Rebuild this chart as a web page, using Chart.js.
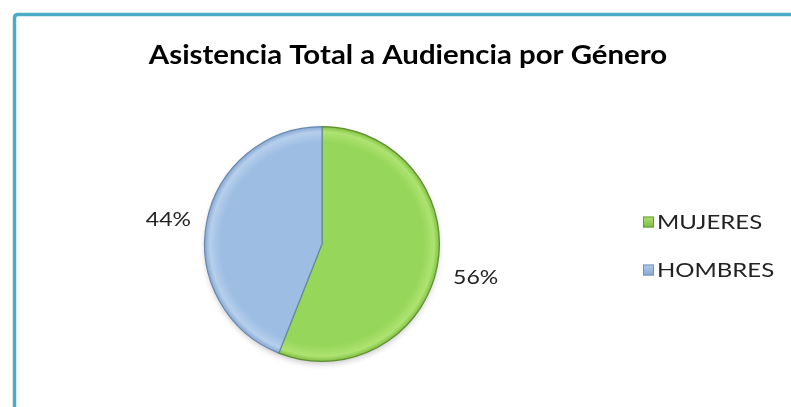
<!DOCTYPE html>
<html><head><meta charset="utf-8">
<script src="https://cdn.jsdelivr.net/npm/chart.js@4"></script>
<style>html,body{margin:0;padding:0;background:#fff;} #wrap{position:relative;width:791px;height:407px;} canvas{display:block}</style>
</head><body><div id="wrap"><canvas id="c" width="791" height="407"></canvas></div>
<script>
const categories = ['MUJERES', 'HOMBRES'];
const values = [56, 44];
const percentLabels = ['56%', '44%'];
const chartTitle = 'Asistencia Total a Audiencia por Género';

const baseColors = [
  {light: '#aee372', mid: '#96d65a', dark: '#7bbb3e', border: '#5e8e30'},
  {light: '#b6cfec', mid: '#9dbde3', dark: '#83a5cf', border: '#6a88b0'}
];

function sliceFill(ctx) {
  const chart = ctx.chart;
  const a = chart.chartArea;
  const c = baseColors[ctx.dataIndex];
  if (!a) return c.mid;
  const cx = (a.left + a.right) / 2, cy = (a.top + a.bottom) / 2;
  const r = Math.min(a.right - a.left, a.bottom - a.top) / 2;
  const g = chart.ctx.createRadialGradient(cx, cy, 0, cx, cy, r);
  g.addColorStop(0, c.mid);
  g.addColorStop(0.86, c.mid);
  g.addColorStop(0.95, c.light);
  g.addColorStop(1, c.dark);
  return g;
}

function stretchedText(ctx, text, x, y, sx, align) {
  ctx.save();
  const w = ctx.measureText(text).width * sx;
  let left = x;
  if (align === 'center') left = x - w / 2;
  ctx.translate(left, y);
  ctx.scale(sx, 1);
  ctx.textAlign = 'left';
  ctx.fillText(text, 0, 0);
  ctx.restore();
}

const decor = {
  id: 'decor',
  beforeDraw(chart) {
    const ctx = chart.ctx;
    ctx.save();
    ctx.fillStyle = '#ffffff';
    ctx.fillRect(0, 0, chart.width, chart.height);
    ctx.strokeStyle = '#4bacc6';
    ctx.lineWidth = 3.5;
    ctx.beginPath();
    ctx.moveTo(14.5, chart.height + 5);
    ctx.lineTo(14.5, 18);
    ctx.quadraticCurveTo(14.5, 14.5, 18, 14.5);
    ctx.lineTo(chart.width + 5, 14.5);
    ctx.stroke();
    ctx.restore();
  },
  beforeDatasetsDraw(chart) {
    const ctx = chart.ctx;
    ctx.save();
    ctx.shadowColor = 'rgba(0,0,0,0.25)';
    ctx.shadowBlur = 6;
    ctx.shadowOffsetY = 3;
    const arc = chart.getDatasetMeta(0).data[0];
    ctx.fillStyle = '#ffffff';
    ctx.beginPath();
    ctx.arc(arc.x, arc.y, arc.outerRadius - 1, 0, Math.PI * 2);
    ctx.fill();
    ctx.restore();
  },
  afterDraw(chart) {
    const ctx = chart.ctx;
    ctx.save();
    // title
    ctx.fillStyle = '#000000';
    ctx.font = 'bold 26px Lato';
    ctx.textBaseline = 'alphabetic';
    stretchedText(ctx, chartTitle, 408, 64, 1.13, 'center');
    // percent labels
    ctx.font = '20px Lato';
    ctx.fillStyle = '#222222';
    ctx.textBaseline = 'middle';
    const meta = chart.getDatasetMeta(0);
    meta.data.forEach((arc, i) => {
      const mid = (arc.startAngle + arc.endAngle) / 2;
      const d = arc.outerRadius + 39;
      const x = arc.x + Math.cos(mid) * d;
      const y = arc.y + Math.sin(mid) * d + 4.5;
      stretchedText(ctx, percentLabels[i], x, y, 1.15, 'center');
    });
    // legend
    ctx.font = '20px Lato';
    categories.forEach((name, i) => {
      const y = 222 + i * 48;
      const c = baseColors[i];
      const g = ctx.createLinearGradient(643, y - 6, 643, y + 6);
      g.addColorStop(0, c.light);
      g.addColorStop(1, c.dark);
      ctx.fillStyle = g;
      ctx.fillRect(643, y - 5.5, 11, 11);
      ctx.strokeStyle = c.border;
      ctx.lineWidth = 0.8;
      ctx.strokeRect(643.5, y - 5, 10, 10);
      ctx.fillStyle = '#222222';
      stretchedText(ctx, name, 657, y + 1, 1.2, 'left');
    });
    ctx.restore();
  }
};

new Chart(document.getElementById('c'), {
  type: 'pie',
  data: {
    labels: categories,
    datasets: [{
      data: values,
      backgroundColor: sliceFill,
      borderColor: baseColors.map(c => c.border),
      borderWidth: 1.2
    }]
  },
  options: {
    responsive: false,
    animation: false,
    devicePixelRatio: 1,
    layout: {padding: {left: 204, right: 351, top: 126, bottom: 45}},
    plugins: {legend: {display: false}, tooltip: {enabled: false}, title: {display: false}}
  },
  plugins: [decor]
});
</script>
</body></html>
